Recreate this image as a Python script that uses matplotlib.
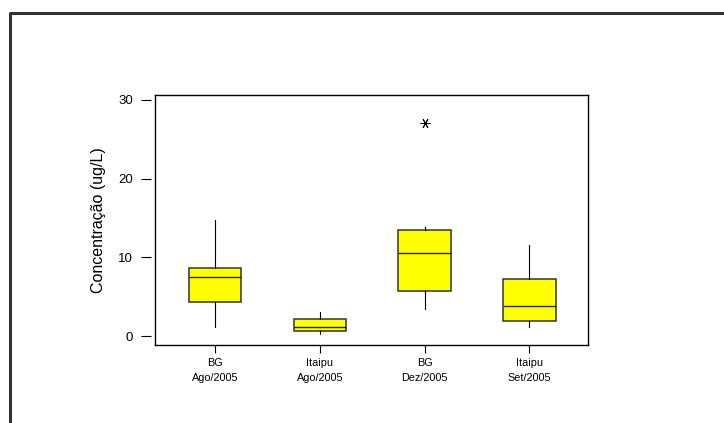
import matplotlib
matplotlib.use("Agg")
import matplotlib.pyplot as plt
from matplotlib.lines import Line2D

# box statistics
groups = ["BG\nAgo/2005", "Itaipu\nAgo/2005", "BG\nDez/2005", "Itaipu\nSet/2005"]
whislo = [1.2, 0.2, 3.4, 1.1]
q1 = [4.3, 0.7, 5.7, 1.95]
med = [7.5, 1.2, 10.5, 3.85]
q3 = [8.7, 2.2, 13.5, 7.2]
whishi = [14.8, 3.1, 13.8, 11.6]
fliers = [[], [], [27.0], []]
yticks = [0, 10, 20, 30]


def main():
    stats = []
    for i in range(len(groups)):
        stats.append({
            "whislo": whislo[i], "q1": q1[i], "med": med[i],
            "q3": q3[i], "whishi": whishi[i], "fliers": fliers[i],
        })

    fig = plt.figure(figsize=(7.24, 4.23), dpi=100)
    ax = fig.add_axes([155 / 724, 1 - 345 / 423, 433 / 724, 250 / 423])

    ax.bxp(stats, positions=[1, 2, 3, 4], widths=0.5, patch_artist=True,
           showcaps=False,
           boxprops=dict(facecolor="#ffff00", edgecolor="#333333", linewidth=1.1),
           medianprops=dict(color="#222222", linewidth=1),
           whiskerprops=dict(color="black", linewidth=0.8),
           flierprops=dict(marker=(6, 2, 90), markersize=7,
                           markeredgecolor="black", markeredgewidth=0.7))

    ax.set_xlim(0.427, 4.56)
    ax.set_ylim(-1.14, 30.62)

    # frame with the y ticks standing a little off it
    ax.spines["left"].set_position(("outward", 3))
    ax.spines["left"].set_visible(False)
    ax.plot([0, 0], [0, 1], transform=ax.transAxes, color="black",
            linewidth=1, clip_on=False)
    for s in ["top", "right", "bottom"]:
        ax.spines[s].set_linewidth(1)

    ax.set_yticks(yticks)
    ax.set_xticks([1, 2, 3, 4])
    ax.set_xticklabels(groups, family=["Liberation Sans Narrow", "Liberation Sans"],
                       fontsize=7.8, linespacing=1.55)
    ax.tick_params(axis="y", length=7, width=0.8, pad=6, labelsize=9.5)
    ax.tick_params(axis="x", length=5.5, width=0.8, pad=4)
    for lab in ax.get_yticklabels():
        lab.set_family(["Liberation Sans", "DejaVu Sans"])

    ax.set_ylabel("Concentração (ug/L)", fontsize=11.5,
                  family=["Liberation Sans", "DejaVu Sans"])
    ax.yaxis.set_label_coords(106 / 724, 1 - 220 / 423, transform=fig.transFigure)

    # outer border of the page
    x0 = 9.5 / 724
    y0 = 1 - 13 / 423
    fig.add_artist(Line2D([x0, x0, 1.01], [-0.01, y0, y0], color="#333333",
                          linewidth=2.2, transform=fig.transFigure))

    fig.savefig("out.png", dpi=100)


if __name__ == "__main__":
    main()
